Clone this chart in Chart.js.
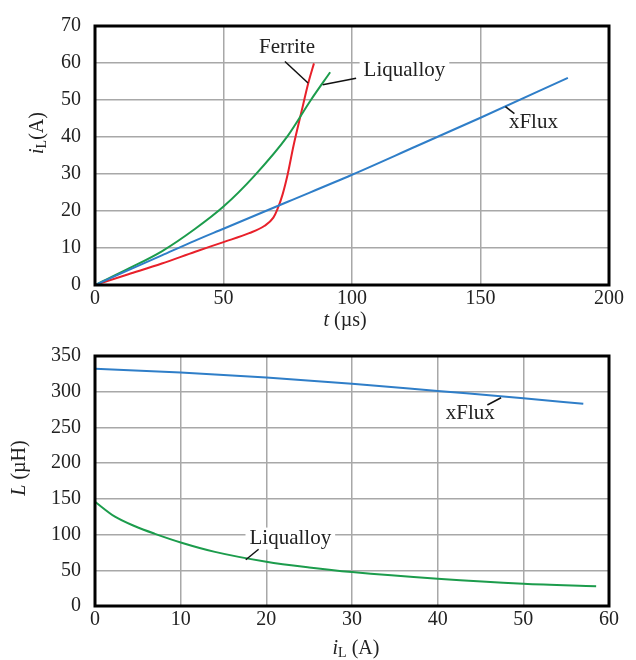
<!DOCTYPE html>
<html>
<head>
<meta charset="utf-8">
<script src="https://cdn.jsdelivr.net/npm/chart.js@4.4.1/dist/chart.umd.min.js"></script>
<style>
  body { margin: 0; background: #fff; }
  canvas { display: block; }
</style>
</head>
<body>
<canvas id="topChart" width="636" height="330"></canvas>
<canvas id="botChart" width="636" height="330"></canvas>
<script>
'use strict';

// top chart: i_L vs t
let ferriteT = [0, 13, 26, 39, 50, 60, 66, 69.4, 71, 73, 75, 77.2, 80.4, 83, 85.2];
let ferriteI = [0, 2.9, 5.8, 9, 11.6, 14, 16, 18.2, 20.5, 24.5, 30, 37.5, 47, 54.6, 59.9];
let liqT = [0, 13, 26, 39, 50, 62, 75, 84, 91.5];
let liqI = [0, 4.4, 9.1, 15.2, 21.2, 29.5, 40.3, 50, 57.5];
let xfluxT = [0, 13, 26, 39, 50, 75, 100, 125, 150, 184];
let xfluxI = [0, 4, 8, 12, 15.2, 22.5, 29.8, 37.5, 45.2, 56];
let tTicks = [0, 50, 100, 150, 200];
let iTicks = [0, 10, 20, 30, 40, 50, 60, 70];

// bottom chart: L vs i_L
let liqCurI = [0, 2.33, 4.67, 7, 10.1, 14, 20, 25, 30, 40, 50, 58.5];
let liqL = [146, 125, 111.6, 101, 88.6, 75.8, 62, 54, 47.5, 38, 31, 27.5];
let xfluxCurI = [0, 10, 20, 30, 40, 50, 57];
let xfluxL = [332, 327, 320, 311, 301, 291, 283];
let curTicks = [0, 10, 20, 30, 40, 50, 60];
let lTicks = [0, 50, 100, 150, 200, 250, 300, 350];

let RED = '#e8202a';
let GREEN = '#1c9c4c';
let BLUE = '#2f7ec8';
let SERIF = '"Liberation Serif", "Times New Roman", serif';

function pts(xs, ys) {
  let out = [];
  for (let i = 0; i < xs.length; i++) out.push({ x: xs[i], y: ys[i] });
  return out;
}

function line(label, xs, ys, color) {
  return {
    label: label,
    data: pts(xs, ys),
    showLine: true,
    borderColor: color,
    backgroundColor: color,
    borderWidth: 2,
    pointRadius: 0,
    cubicInterpolationMode: 'monotone'
  };
}

// draws text pieces (italic / subscript) one after another
function drawParts(ctx, parts, cx, cy, rot, size) {
  ctx.save();
  ctx.translate(cx, cy);
  if (rot) ctx.rotate(-Math.PI / 2);
  let total = 0;
  parts.forEach(p => {
    ctx.font = (p.it ? 'italic ' : '') + (p.sub ? size * 0.7 : size) + 'px ' + SERIF;
    p.w = ctx.measureText(p.t).width;
    total += p.w;
  });
  let x = -total / 2;
  ctx.fillStyle = '#222';
  ctx.textBaseline = 'middle';
  ctx.textAlign = 'left';
  parts.forEach(p => {
    ctx.font = (p.it ? 'italic ' : '') + (p.sub ? size * 0.7 : size) + 'px ' + SERIF;
    ctx.fillText(p.t, x, p.sub ? size * 0.22 : 0);
    x += p.w;
  });
  ctx.restore();
}

let decor = {
  id: 'decor',
  afterDraw(chart) {
    let ctx = chart.ctx;
    let a = chart.chartArea;
    let xs = chart.scales.x, ys = chart.scales.y;
    let o = chart.options.plugins.decor;

    // notes with leader lines
    o.notes.forEach(n => {
      ctx.save();
      ctx.font = '21px ' + SERIF;
      let w = ctx.measureText(n.text).width;
      let px = xs.getPixelForValue(n.x), py = ys.getPixelForValue(n.y);
      ctx.fillStyle = '#fff';
      ctx.fillRect(px - w / 2 - 4, py - 11, w + 8, 22);
      ctx.fillStyle = '#222';
      ctx.textAlign = 'center';
      ctx.textBaseline = 'middle';
      ctx.fillText(n.text, px, py);
      ctx.strokeStyle = '#111';
      ctx.lineWidth = 1.5;
      ctx.beginPath();
      ctx.moveTo(xs.getPixelForValue(n.l[0]), ys.getPixelForValue(n.l[1]));
      ctx.lineTo(xs.getPixelForValue(n.l[2]), ys.getPixelForValue(n.l[3]));
      ctx.stroke();
      ctx.restore();
    });

    // frame
    ctx.save();
    ctx.strokeStyle = '#000';
    ctx.lineWidth = 3;
    ctx.strokeRect(a.left, a.top, a.right - a.left, a.bottom - a.top);
    ctx.restore();

    drawParts(ctx, o.yTitle, o.yTitlePos[0], o.yTitlePos[1], true, 20);
    drawParts(ctx, o.xTitle, o.xTitlePos[0], o.xTitlePos[1], false, 20);
  }
};

function makeChart(id, datasets, xTicks, yTicks, xH, decorOpts) {
  let tickFont = { family: SERIF, size: 20 };
  return new Chart(document.getElementById(id), {
    type: 'scatter',
    data: { datasets: datasets },
    options: {
      responsive: false,
      animation: false,
      layout: { padding: { top: 22, right: 27, left: 0, bottom: 0 } },
      plugins: { legend: { display: false }, tooltip: { enabled: false }, decor: decorOpts },
      scales: {
        x: {
          type: 'linear',
          min: xTicks[0], max: xTicks[xTicks.length - 1],
          afterBuildTicks: s => { s.ticks = xTicks.map(v => ({ value: v })); },
          afterFit: s => { s.height = xH; },
          ticks: { font: tickFont, color: '#222', padding: 2, maxRotation: 0 },
          grid: { color: '#a8a8a8', lineWidth: 1.5, drawTicks: false },
          border: { display: false }
        },
        y: {
          type: 'linear',
          min: yTicks[0], max: yTicks[yTicks.length - 1],
          afterBuildTicks: s => { s.ticks = yTicks.map(v => ({ value: v })); },
          afterFit: s => { s.width = 95; },
          ticks: { font: tickFont, color: '#222', padding: 14 },
          grid: { color: '#a8a8a8', lineWidth: 1.5, drawTicks: false },
          border: { display: false }
        }
      }
    },
    plugins: [decor]
  });
}

makeChart('topChart', [
  line('xFlux', xfluxT, xfluxI, BLUE),
  line('Liqualloy', liqT, liqI, GREEN),
  line('Ferrite', ferriteT, ferriteI, RED)
], tTicks, iTicks, 45, {
  notes: [
    { text: 'Ferrite', x: 74.7, y: 64.1, l: [73.9, 60.4, 82.9, 54.6] },
    { text: 'Liqualloy', x: 120.4, y: 57.9, l: [101.6, 55.9, 88.6, 54.1] },
    { text: 'xFlux', x: 170.6, y: 43.9, l: [159.7, 48.2, 163.2, 46.3] }
  ],
  yTitle: [{ t: 'i', it: true }, { t: 'L', sub: true }, { t: '(A)' }],
  yTitlePos: [38, 133],
  xTitle: [{ t: 't', it: true }, { t: ' (µs)' }],
  xTitlePos: [345, 321]
});

makeChart('botChart', [
  line('xFlux', xfluxCurI, xfluxL, BLUE),
  line('Liqualloy', liqCurI, liqL, GREEN)
], curTicks, lTicks, 54, {
  notes: [
    { text: 'xFlux', x: 43.8, y: 269, l: [45.8, 281.4, 47.4, 291.6] },
    { text: 'Liqualloy', x: 22.8, y: 94.4, l: [19.1, 79.5, 17.6, 64.8] }
  ],
  yTitle: [{ t: 'L', it: true }, { t: ' (µH)' }],
  yTitlePos: [20, 138],
  xTitle: [{ t: 'i', it: true }, { t: 'L', sub: true }, { t: ' (A)' }],
  xTitlePos: [356, 319]
});
</script>
</body>
</html>
